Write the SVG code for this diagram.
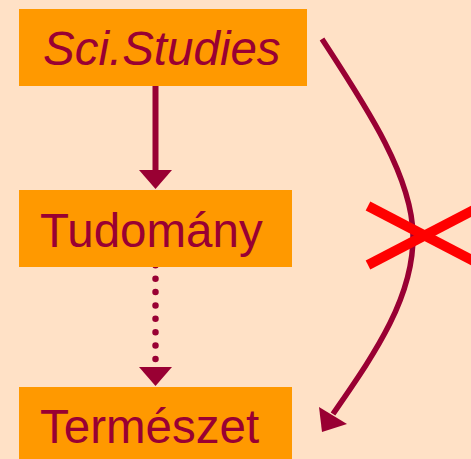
<svg xmlns="http://www.w3.org/2000/svg" width="471" height="459" viewBox="0 0 471 459">
<style>
.box{fill:#FF9900}
.lbl{font-family:"Liberation Sans",Arial,sans-serif;font-size:47.5px;fill:#990033}
.ln{stroke:#990033;fill:none}
.hd{fill:#990033}
</style>
<rect width="471" height="459" fill="#FFE1C6"/>
<g id="connectors">
<line class="ln" x1="155.5" y1="86" x2="155.5" y2="171" stroke-width="6"/>
<polygon class="hd" points="139,170 172,170 155.5,189"/>
<line class="ln" x1="155.5" y1="265.3" x2="155.5" y2="360" stroke-width="6.5" stroke-linecap="round" stroke-dasharray="0 13.38"/>
<polygon class="hd" points="139,367 172,367 155.5,386"/>
<path class="ln" d="M322,39 C365,105 412,175 413,235 C414,300 370,360 333,414" stroke-width="5.5"/>
<polygon class="hd" points="322,432 319,407 347,424"/>
</g>
<g id="cross">
<line x1="368" y1="206" x2="485" y2="267" stroke="#FF0000" stroke-width="10"/>
<line x1="368" y1="265" x2="485" y2="204" stroke="#FF0000" stroke-width="10"/>
</g>
<g id="sci-studies">
<rect class="box" x="19" y="9" width="288" height="77"/>
<text class="lbl" x="43" y="65" font-style="italic">Sci.Studies</text>
</g>
<g id="tudomany">
<rect class="box" x="19" y="190" width="273" height="77"/>
<text class="lbl" x="40" y="247">Tudomány</text>
</g>
<g id="termeszet">
<rect class="box" x="19" y="387" width="273" height="80"/>
<text class="lbl" x="40" y="443">Természet</text>
</g>
</svg>
